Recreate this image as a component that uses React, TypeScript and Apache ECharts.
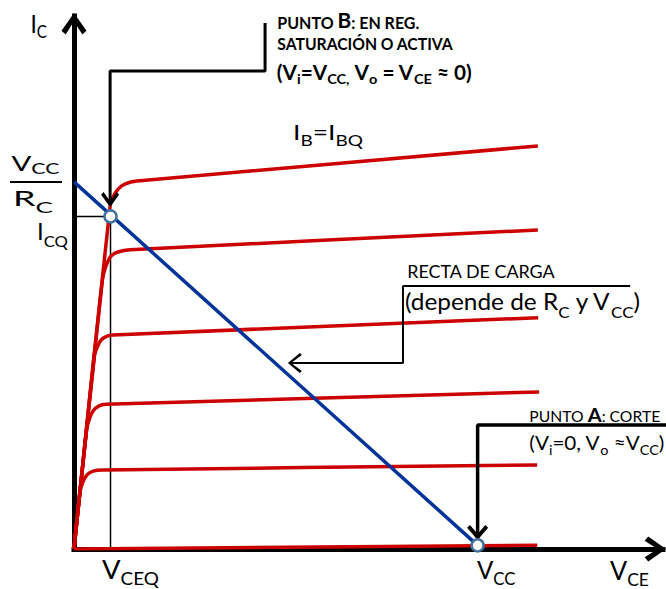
import React, { useEffect, useRef } from 'react';
import * as echarts from 'echarts';

// ---- Data (V_CE in volts, I_C in mA) ----
const curveIB5 = [[0, 0], [0.888, 9.32], [1.011, 9.69], [1.176, 9.89], [1.381, 9.99], [1.628, 10.03], [11.435, 10.98]];
const curveIB4 = [[0, 0], [0.7, 7.33], [0.789, 7.71], [0.912, 7.98], [1.085, 8.09], [1.381, 8.15], [11.435, 8.69]];
const curveIB3 = [[0, 0], [0.506, 5.28], [0.567, 5.48], [0.666, 5.69], [0.814, 5.8], [0.962, 5.83], [11.443, 6.3]];
const curveIB2 = [[0, 0], [0.311, 3.24], [0.37, 3.51], [0.469, 3.76], [0.617, 3.9], [0.789, 3.94], [11.467, 4.28]];
const curveIB1 = [[0, 0], [0.148, 1.55], [0.222, 1.83], [0.321, 2.02], [0.469, 2.12], [0.715, 2.15], [11.418, 2.29]];
const curveIB0 = [[0, 0], [11.42, 0.1]];
const loadLine = [[0, 10], [9.95, 0.1]];
const pointQ = [0.9, 9.06];
const pointA = [9.95, 0.1];
const X_MAX = 14.52;
const Y_MAX = 14.52;

// annotation leader lines (data coordinates)
const leaderB = [[4.71, 14.33], [4.71, 13.02], [0.89, 13.02], [0.89, 9.37]];
const leaderLoad = [[13.71, 7.164], [8.11, 7.164], [8.11, 5.067], [5.31, 5.067]];
const leaderA = [[14.6, 3.38], [9.95, 3.38], [9.95, 0.3]];

const FAMILY = 'Lato';
const CENTRAL = 0.387; // distance from central baseline to alphabetic baseline (em)

type Part = { t: string; fs: number; dy?: number; bold?: boolean };

let measureCtx: CanvasRenderingContext2D | null = null;
function fontStr(fs: number, bold?: boolean) {
  return (bold ? 'bold ' : 'normal ') + fs.toFixed(2) + 'px ' + FAMILY;
}
function measure(t: string, fs: number, bold?: boolean) {
  if (!measureCtx) measureCtx = document.createElement('canvas').getContext('2d');
  if (!measureCtx) return t.length * fs * 0.5;
  measureCtx.font = fontStr(fs, bold);
  return measureCtx.measureText(t).width;
}

// x: left edge, base: alphabetic baseline of main text, target: wanted total width (horizontal stretch)
function label(x: number, base: number, target: number, parts: Part[]) {
  let w = 0;
  parts.forEach((p) => (w += measure(p.t, p.fs, p.bold)));
  const k = target > 0 ? target / w : 1;
  let cx = x;
  const children: any[] = [];
  parts.forEach((p) => {
    const fs = p.fs;
    const full = measure(p.t, fs, p.bold);
    const trimmedStart = p.t.replace(/^\s+/, '');
    const lead = measure(p.t.slice(0, p.t.length - trimmedStart.length), fs, p.bold);
    const txt = p.t.trim();
    if (txt.length) {
      children.push({
        type: 'text',
        x: cx + lead * k,
        y: base + (p.dy || 0) - CENTRAL * fs,
        scaleX: k,
        silent: true,
        style: {
          text: txt,
          font: fontStr(fs, p.bold),
          fill: '#000',
          align: 'left',
          verticalAlign: 'middle',
          textAlign: 'left',
          textVerticalAlign: 'middle',
        },
      });
    }
    cx += full * k;
  });
  return { type: 'group', silent: true, z: 100, children };
}

const AXIS_ARROW = 'path://M12,0 L24,17 L20,20.5 L12,8 L4,20.5 L0,17 Z';
const DOWN_ARROW = 'path://M0,2.5 L2.2,0 L8,8.5 L13.8,0 L16,2.5 L8,14 Z';
const LEFT_ARROW = 'path://M0,10 L12,0 L14,2 L3.2,10 L14,18 L12,20 Z';

function leader(points: number[][], width: number, arrow: { symbol: string; size: number[]; offset: number[] }) {
  return {
    type: 'line',
    silent: true,
    clip: false,
    symbol: 'none',
    showSymbol: true,
    itemStyle: { color: '#000' },
    lineStyle: { color: '#000', width },
    emphasis: { disabled: true },
    data: points.map((p, i) =>
      i === points.length - 1
        ? { value: p, symbol: arrow.symbol, symbolSize: arrow.size, symbolOffset: arrow.offset, itemStyle: { color: '#000' } }
        : { value: p }
    ),
  };
}

function curve(points: number[][]) {
  return {
    type: 'line',
    silent: true,
    symbol: 'none',
    smooth: 0.25,
    lineStyle: { color: '#CC0000', width: 3.5 },
    emphasis: { disabled: true },
    data: points,
  };
}

export default function App() {
  const ref = useRef<HTMLDivElement>(null);
  useEffect(() => {
    if (!ref.current) return;
    const chart = echarts.init(ref.current, null, { renderer: 'svg' });
    const axisBase = {
      type: 'value',
      min: 0,
      axisTick: { show: false },
      axisLabel: { show: false },
      splitLine: { show: false },
    };
    const axisLine = {
      show: true,
      lineStyle: { color: '#000', width: 5, cap: 'square' },
      symbol: ['none', AXIS_ARROW],
      symbolSize: [25, 21.4],
      symbolOffset: [0, 3 - 10.7],
    };
    chart.setOption({
      animation: false,
      backgroundColor: '#fff',
      grid: { left: 74, top: 16, width: 589, height: 533, containLabel: false, outerBoundsMode: 'none' },
      xAxis: { ...axisBase, max: X_MAX, offset: 2, axisLine },
      yAxis: { ...axisBase, max: Y_MAX, axisLine },
      series: [
        {
          type: 'line',
          silent: true,
          symbol: 'none',
          lineStyle: { color: '#000', width: 1.5 },
          data: [[0, pointQ[1]], [pointQ[0], pointQ[1]], [pointQ[0], 0]],
        },
        curve(curveIB0),
        curve(curveIB1),
        curve(curveIB2),
        curve(curveIB3),
        curve(curveIB4),
        curve(curveIB5),
        {
          type: 'line',
          silent: true,
          symbol: 'none',
          lineStyle: { color: '#003399', width: 3.5 },
          data: loadLine,
        },
        leader(leaderB, 3, { symbol: DOWN_ARROW, size: [18, 15], offset: [0, -5.5] }),
        leader(leaderLoad, 2, { symbol: LEFT_ARROW, size: [14, 20], offset: [5.5, 0] }),
        leader(leaderA, 3.5, { symbol: DOWN_ARROW, size: [21, 15], offset: [0, -5.5] }),
        {
          type: 'scatter',
          silent: true,
          symbol: 'circle',
          symbolSize: 12,
          z: 5,
          itemStyle: { color: '#fff', borderColor: '#41719C', borderWidth: 2.5, opacity: 1 },
          data: [pointQ, pointA],
        },
      ],
      graphic: {
        elements: [
          label(30.5, 33, 16.5, [{ t: 'I', fs: 25 }, { t: 'C', fs: 17, dy: 5 }]),
          label(11.5, 171, 48, [{ t: 'V', fs: 22 }, { t: 'CC', fs: 16, dy: 3 }]),
          { type: 'line', z: 100, silent: true, shape: { x1: 10, y1: 182, x2: 62, y2: 182 }, style: { stroke: '#000', lineWidth: 2 } },
          label(13, 206.5, 40, [{ t: 'R', fs: 22 }, { t: 'C', fs: 16, dy: 7 }]),
          label(37, 240, 31, [{ t: 'I', fs: 23 }, { t: 'CQ', fs: 16, dy: 7 }]),
          label(293, 140, 70, [{ t: 'I', fs: 21 }, { t: 'B', fs: 15, dy: 6.5 }, { t: '=I', fs: 21 }, { t: 'BQ', fs: 15, dy: 6.5 }]),
          label(277.3, 28.3, 142, [{ t: 'PUNTO ', fs: 16.5, bold: true }, { t: 'B', fs: 21.5, bold: true }, { t: ': EN REG.', fs: 16.5, bold: true }]),
          label(277.3, 50, 176, [{ t: 'SATURACIÓN O ACTIVA', fs: 16.5, bold: true }]),
          label(276.7, 80, 195, [
            { t: '(V', fs: 20, bold: true },
            { t: 'i', fs: 14, dy: 4, bold: true },
            { t: '=V', fs: 20, bold: true },
            { t: 'CC,', fs: 14, dy: 4, bold: true },
            { t: ' V', fs: 20, bold: true },
            { t: 'o', fs: 14, dy: 4, bold: true },
            { t: ' = V', fs: 20, bold: true },
            { t: 'CE', fs: 14, dy: 4, bold: true },
            { t: ' ≈ 0)', fs: 20, bold: true },
          ]),
          label(407.3, 278.5, 148, [{ t: 'RECTA DE CARGA', fs: 16.5 }]),
          label(405, 310, 235, [
            { t: '(depende de R', fs: 23 },
            { t: 'C', fs: 16, dy: 8 },
            { t: ' y V', fs: 23 },
            { t: 'CC', fs: 16, dy: 8 },
            { t: ')', fs: 23 },
          ]),
          label(529.3, 421.7, 131, [{ t: 'PUNTO ', fs: 14.5 }, { t: 'A', fs: 18.5, bold: true }, { t: ': CORTE', fs: 14.5 }]),
          label(529.3, 450, 135, [
            { t: '(V', fs: 20 },
            { t: 'i', fs: 14, dy: 5 },
            { t: '=0, V', fs: 20 },
            { t: 'o', fs: 14, dy: 5 },
            { t: ' ≈V', fs: 20 },
            { t: 'CC', fs: 14, dy: 5 },
            { t: ')', fs: 20 },
          ]),
          label(102, 579.5, 57, [{ t: 'V', fs: 26 }, { t: 'CEQ', fs: 18, dy: 6 }]),
          label(477, 578.5, 38.5, [{ t: 'V', fs: 26 }, { t: 'CC', fs: 18, dy: 6.5 }]),
          label(610, 579.5, 39, [{ t: 'V', fs: 26 }, { t: 'CE', fs: 18, dy: 6 }]),
        ],
      },
    });
    return () => chart.dispose();
  }, []);
  return <div ref={ref} style={{ position: 'fixed', left: 0, top: 0, width: 666, height: 589 }} />;
}
